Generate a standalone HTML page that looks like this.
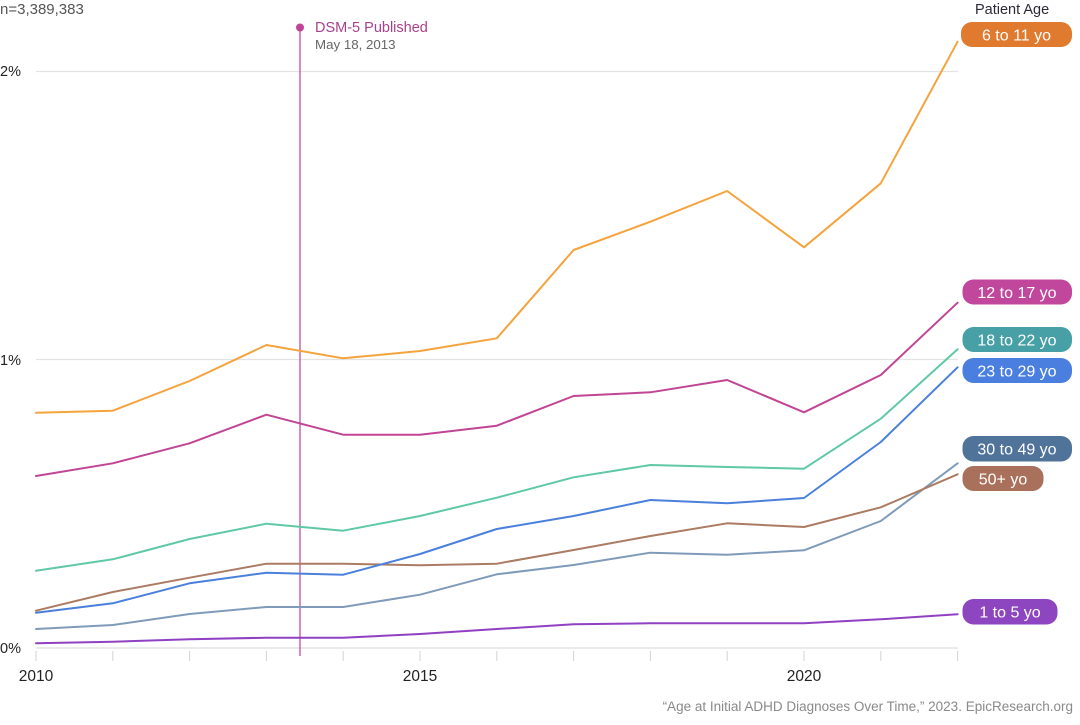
<!DOCTYPE html>
<html><head><meta charset="utf-8"><style>
html,body{margin:0;padding:0;background:#fff;}
svg{display:block;font-family:"Liberation Sans",sans-serif;}
</style></head><body>
<svg width="1080" height="725" viewBox="0 0 1080 725" xmlns="http://www.w3.org/2000/svg">
<!-- gridlines -->
<line x1="36" y1="71.5" x2="958" y2="71.5" stroke="#e3e3e3" stroke-width="1.2"/>
<line x1="36" y1="359.5" x2="958" y2="359.5" stroke="#e3e3e3" stroke-width="1.2"/>
<line x1="36" y1="648" x2="958" y2="648" stroke="#dedede" stroke-width="1.2"/>
<!-- ticks -->
<g stroke="#d4d4d4" stroke-width="1">
<line x1="36" y1="651" x2="36" y2="661"/><line x1="112.8" y1="651" x2="112.8" y2="661"/>
<line x1="189.6" y1="651" x2="189.6" y2="661"/><line x1="266.4" y1="651" x2="266.4" y2="661"/>
<line x1="343.2" y1="651" x2="343.2" y2="661"/><line x1="420" y1="651" x2="420" y2="661"/>
<line x1="496.8" y1="651" x2="496.8" y2="661"/><line x1="573.6" y1="651" x2="573.6" y2="661"/>
<line x1="650.4" y1="651" x2="650.4" y2="661"/><line x1="727.2" y1="651" x2="727.2" y2="661"/>
<line x1="804" y1="651" x2="804" y2="661"/><line x1="880.8" y1="651" x2="880.8" y2="661"/>
<line x1="957.6" y1="651" x2="957.6" y2="661"/>
</g>
<!-- y labels -->
<g font-size="14.5" fill="#222">
<text x="0" y="76">2%</text>
<text x="0" y="365">1%</text>
<text x="0" y="653">0%</text>
</g>
<text x="0" y="14" font-size="15" fill="#555">n=3,389,383</text>
<!-- x labels -->
<g font-size="15.5" fill="#222" text-anchor="middle">
<text x="36" y="681">2010</text>
<text x="420" y="681">2015</text>
<text x="804" y="681">2020</text>
</g>
<!-- DSM marker -->
<line x1="300" y1="27" x2="300" y2="656" stroke="#c0509a" stroke-width="1.3"/>
<circle cx="300" cy="27.5" r="4" fill="#c0449a"/>
<text x="315" y="32" font-size="14.5" fill="#a8418c">DSM-5 Published</text>
<text x="315" y="49" font-size="13.3" fill="#666">May 18, 2013</text>
<!-- series -->
<g fill="none" stroke-width="2" stroke-linejoin="round" stroke-linecap="round">
<polyline stroke="#9040c2" points="36,643.3 112.8,641.7 189.6,639.3 266.4,637.7 343.2,637.7 420,634 496.8,629 573.6,624.3 650.4,623.3 727.2,623.3 804,623.3 880.8,619.3 957.6,614.3"/>
<polyline stroke="#7f9bb9" points="36,629 112.8,625 189.6,614 266.4,607 343.2,607 420,594.7 496.8,574.3 573.6,565 650.4,552.7 727.2,554.7 804,550.3 880.8,521 957.6,463.3"/>
<polyline stroke="#ab7b63" points="36,610.7 112.8,592 189.6,577.7 266.4,563.7 343.2,563.7 420,565.3 496.8,563.7 573.6,550 650.4,536 727.2,523.3 804,527 880.8,507.3 957.6,474.3"/>
<polyline stroke="#4a80dc" points="36,612.7 112.8,603.3 189.6,583.3 266.4,572.7 343.2,574.7 420,554 496.8,529 573.6,516 650.4,500 727.2,503.3 804,498 880.8,442 957.6,367.3"/>
<polyline stroke="#5ec9a2" points="36,570.7 112.8,559.3 189.6,539 266.4,523.7 343.2,530.7 420,516 496.8,497.7 573.6,477.3 650.4,465 727.2,467 804,468.7 880.8,418.7 957.6,349.3"/>
<polyline stroke="#c04594" points="36,476 112.8,463.3 189.6,443.3 266.4,414.7 343.2,434.7 420,434.7 496.8,425.7 573.6,396 650.4,392.3 727.2,380 804,412.3 880.8,375 957.6,302.7"/>
<polyline stroke="#f4a33d" points="36,412.7 112.8,410.7 189.6,381 266.4,345 343.2,358.3 420,351 496.8,338.3 573.6,250 650.4,221.7 727.2,191 804,247.3 880.8,183.3 957.6,41.7"/>
</g>
<!-- legend -->
<text x="975" y="14" font-size="14.5" fill="#2a2a3a">Patient Age</text>
<g font-size="16" fill="#fff" text-anchor="middle">
<rect x="961" y="22" width="111" height="25" rx="11" fill="#e07a2e"/>
<text x="1016.5" y="40.5">6 to 11 yo</text>
<rect x="962.5" y="279.5" width="109.5" height="25" rx="11" fill="#c0479b"/>
<text x="1017" y="298">12 to 17 yo</text>
<rect x="962.5" y="327" width="109.5" height="25" rx="11" fill="#46a0a6"/>
<text x="1017" y="345.5">18 to 22 yo</text>
<rect x="962.5" y="358" width="109.5" height="25" rx="11" fill="#4a7fe0"/>
<text x="1017" y="376.5">23 to 29 yo</text>
<rect x="962.5" y="436" width="109.5" height="25.5" rx="11" fill="#4f7399"/>
<text x="1017" y="454.5">30 to 49 yo</text>
<rect x="962.5" y="466" width="81" height="25" rx="11" fill="#a9705b"/>
<text x="1003" y="484.5">50+ yo</text>
<rect x="962.5" y="599" width="95" height="25.5" rx="11" fill="#8e45c0"/>
<text x="1010" y="617.5">1 to 5 yo</text>
</g>
<text x="1073" y="711" font-size="13.5" fill="#8a8a8a" text-anchor="end">“Age at Initial ADHD Diagnoses Over Time,” 2023. EpicResearch.org</text>
</svg>
</body></html>
